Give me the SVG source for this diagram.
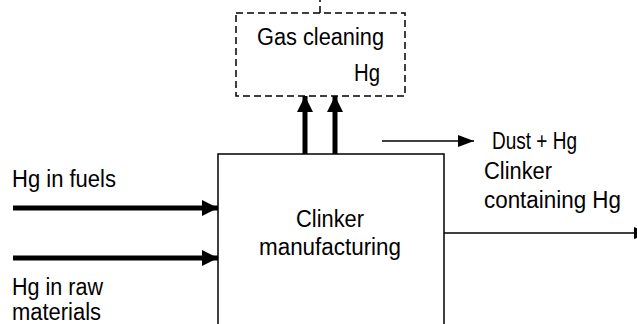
<svg xmlns="http://www.w3.org/2000/svg" width="637" height="324" viewBox="0 0 637 324">
<style>
text{font-family:"Liberation Sans",Arial,sans-serif;font-size:23px;fill:#000}
.box{fill:#fff;stroke:#000;stroke-width:1.5}
.dash{fill:none;stroke:#000;stroke-width:1.5;stroke-dasharray:7 4}
.thick{stroke:#000;stroke-width:5;fill:none}
.thin{stroke:#000;stroke-width:1.5;fill:none}
</style>
<defs>
<marker id="ah" viewBox="0 0 10 10" refX="10" refY="5" markerUnits="userSpaceOnUse" markerWidth="16" markerHeight="16" orient="auto"><path d="M0,0 L10,5 L0,10 z" fill="#000"/></marker>
<marker id="at" viewBox="0 0 10 10" refX="10" refY="5" markerUnits="userSpaceOnUse" markerWidth="16" markerHeight="12" orient="auto" preserveAspectRatio="none"><path d="M0,0 L10,5 L0,10 z" fill="#000"/></marker>
</defs>
<g id="gas-cleaning">
<rect class="dash" x="236" y="13" width="169" height="83"/>
<path class="dash" d="M320,13 V0"/>
<text x="257" y="45" textLength="127" lengthAdjust="spacingAndGlyphs">Gas cleaning</text>
<text x="354" y="81" textLength="26" lengthAdjust="spacingAndGlyphs">Hg</text>
</g>
<g id="clinker-manufacturing">
<path class="box" d="M218,326 V154 H444 V326"/>
<text x="296" y="227" textLength="68" lengthAdjust="spacingAndGlyphs">Clinker</text>
<text x="259" y="255" textLength="142" lengthAdjust="spacingAndGlyphs">manufacturing</text>
</g>
<g id="labels">
<text x="12" y="187" textLength="104" lengthAdjust="spacingAndGlyphs">Hg in fuels</text>
<text x="12" y="295" textLength="91" lengthAdjust="spacingAndGlyphs">Hg in raw</text>
<text x="12" y="320" textLength="89" lengthAdjust="spacingAndGlyphs">materials</text>
<text x="492" y="149" font-size="20" textLength="85" lengthAdjust="spacingAndGlyphs">Dust + Hg</text>
<text x="484" y="179" textLength="68" lengthAdjust="spacingAndGlyphs">Clinker</text>
<text x="484" y="208" textLength="137" lengthAdjust="spacingAndGlyphs">containing Hg</text>
</g>
<g id="connectors">
<path class="thick" d="M13,208 H218" marker-end="url(#ah)"/>
<path class="thick" d="M13,258 H218" marker-end="url(#ah)"/>
<path class="thick" d="M305,154 V96" marker-end="url(#ah)"/>
<path class="thick" d="M335,154 V96" marker-end="url(#ah)"/>
<path class="thin" d="M382,141 H474" marker-end="url(#at)"/>
<path class="thin" d="M444,233 H650" marker-end="url(#at)"/>
</g>
</svg>
